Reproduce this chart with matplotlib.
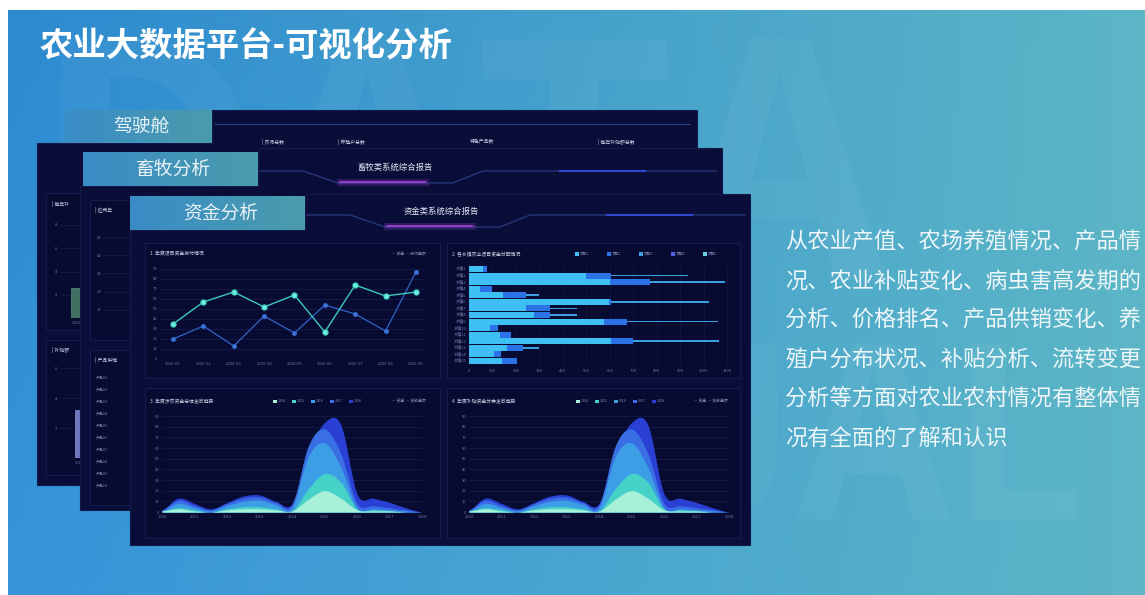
import numpy as np
import matplotlib.pyplot as plt
from matplotlib.patches import Rectangle, Polygon

plt.rcParams['font.family'] = ['Noto Sans CJK SC', 'DejaVu Sans']

W, H = 1145, 595

title = "农业大数据平台-可视化分析"
tabs = ["驾驶舱", "畜牧分析", "资金分析"]
reports = ["畜牧类系统综合报告", "资金类系统综合报告"]
desc_lines = [
    "从农业产值、农场养殖情况、产品情",
    "况、农业补贴变化、病虫害高发期的",
    "分析、价格排名、产品供销变化、养",
    "殖户分布状况、补贴分析、流转变更",
    "分析等方面对农业农村情况有整体情",
    "况有全面的了解和认识",
]
kpi_labels = ["| 农场总数", "| 养殖户总数", "特色产品数", "| 每年补贴额总数"]

# line chart (two series over nine dates)
line_dates = ["2020-01", "2020-02", "2020-03", "2020-04", "2020-05",
              "2020-06", "2020-07", "2020-08", "2020-09"]
line_a = [35, 57, 67, 52, 64, 27, 74, 63, 67]
line_b = [20, 33, 13, 43, 26, 54, 45, 28, 87]

# stacked horizontal bars, 15 towns
bar_towns = ["乡镇%d" % (i + 1) for i in range(15)]
bar_s1 = [60, 500, 600, 45, 145, 595, 245, 275, 575, 90, 130, 605, 160, 105, 140]
bar_s2 = [15, 105, 170, 55, 100, 10, 100, 70, 100, 35, 50, 95, 70, 30, 65]
bar_s3 = [0, 330, 320, 0, 55, 420, 115, 115, 385, 0, 0, 365, 70, 0, 0]
bar_ticks = list(range(0, 1101, 100))

# overlapping area layers (half-year steps)
area_years = ["2010", "2011", "2012", "2013", "2014", "2015", "2016", "2017", "2018"]
area_l5 = [2, 13, 8, 3, 9, 15, 16, 10, 8, 55, 84, 82, 17, 13, 9, 4, 0]
area_l4 = [2, 11, 6, 2, 8, 13, 14, 9, 7, 62, 78, 55, 8, 6, 4, 2, 0]
area_l3 = [1, 8, 4, 1, 6, 10, 11, 7, 4, 52, 65, 42, 4, 3, 2, 1, 0]
area_l2 = [1, 4, 2, 0, 3, 5, 5, 3, 1, 22, 36, 28, 3, 2, 1, 0, 0]
area_l1 = [1, 3, 1, 0, 2, 3, 3, 2, 1, 12, 20, 13, 2, 1, 1, 0, 0]
area_colors = ["#2a3fd4", "#3a6ee4", "#3c9fe6", "#46d2c6", "#a8f0d8"]

# small charts on the back pages
mini_a = [2.6]
mini_b = [3.2]
mini_spikes = [10, 18, 35, 22, 48, 15, 30, 12]

fig = plt.figure(figsize=(W / 100, H / 100), dpi=100, facecolor="white")


def fbox(x0, y0, x1, y1):
    return [x0 / W, 1 - y1 / H, (x1 - x0) / W, (y1 - y0) / H]


def layer(z):
    ax = fig.add_axes([0, 0, 1, 1], zorder=z)
    ax.set_xlim(0, W)
    ax.set_ylim(H, 0)
    ax.axis("off")
    ax.patch.set_alpha(0)
    return ax


def gradient_rect(ax, x0, y0, x1, y1, c0, c1, z=1):
    t = np.linspace(0, 1, 64)
    c0, c1 = np.array(c0) / 255, np.array(c1) / 255
    img = (c0[None, :] * (1 - t[:, None]) + c1[None, :] * t[:, None])[None, :, :]
    ax.imshow(img, extent=(x0, x1, y1, y0), aspect="auto", zorder=z, interpolation="bilinear")


def panel(ax, x0, y0, x1, y1, tab_x1, top):
    pts = [(x0, y0), (tab_x1, y0), (tab_x1, top), (x1, top), (x1, y1), (x0, y1)]
    ax.add_patch(Polygon(pts, closed=True, fc="#090d38", ec="#141a4c", lw=0.8, zorder=2))


def tab(ax, x0, y0, x1, y1, text):
    gradient_rect(ax, x0, y0, x1, y1, (58, 140, 198), (74, 156, 172), z=3)
    ax.text((x0 + x1) / 2 + 3, (y0 + y1) / 2, text, color="#e8f2f8", fontsize=13.5,
            ha="center", va="center", zorder=4)


def header(ax, xs, xe, y, text, cx):
    px = [xs, xs + 43, xs + 78, xs + 193, xs + 223, xe]
    py = [y, y, y + 12, y + 12, y, y]
    ax.plot(px, py, color="#27357a", lw=1.0, zorder=3)
    ax.plot([xs + 80, xs + 165], [y + 11, y + 11], color="#a040e0", lw=5, alpha=0.25, zorder=3)
    ax.plot([xs + 80, xs + 165], [y + 11, y + 11], color="#c050f0", lw=1.2, alpha=0.8, zorder=3)
    ax.plot([xs + 300, xs + 385], [y, y], color="#3550e8", lw=1.6, alpha=0.8, zorder=3)
    ax.text(cx, y - 4, text, color="#e4e8f4", fontsize=6, ha="center", va="center", zorder=4)


def frame(ax, x0, y0, x1, y1):
    ax.add_patch(Rectangle((x0, y0), x1 - x0, y1 - y0, fc="#080b31", ec="#151c50", lw=0.7, zorder=3))


def style_chart(ax):
    ax.patch.set_alpha(0)
    for s in ax.spines.values():
        s.set_visible(False)
    ax.tick_params(length=0, labelsize=3, colors="#6d77a8", pad=2)


def smooth(x, y, n=24):
    # Catmull-Rom curve through the data points
    x = np.asarray(x, float)
    y = np.asarray(y, float)
    xs, ys = [], []
    t = np.linspace(0, 1, n, endpoint=False)
    for i in range(len(x) - 1):
        p0, p1 = y[max(i - 1, 0)], y[i]
        p2, p3 = y[i + 1], y[min(i + 2, len(y) - 1)]
        yy = 0.5 * (2 * p1 + (-p0 + p2) * t + (2 * p0 - 5 * p1 + 4 * p2 - p3) * t ** 2
                    + (-p0 + 3 * p1 - 3 * p2 + p3) * t ** 3)
        xs.append(x[i] + (x[i + 1] - x[i]) * t)
        ys.append(yy)
    xs.append([x[-1]])
    ys.append([y[-1]])
    return np.concatenate(xs), np.clip(np.concatenate(ys), 0, None)


# ---- background, title, description ----
bg = layer(0)
ny, nx = 60, 200
gx = np.linspace(0, 1, nx)[None, :]
gy = np.linspace(0, 1, ny)[:, None]
left = np.array([44, 138, 208]) / 255
right = np.array([92, 182, 198]) / 255
img = left * (1 - gx[..., None]) + right * gx[..., None]
img = img + 0.04 * gy[..., None] * (1 - gx[..., None])
bg.imshow(np.clip(img, 0, 1), extent=(8, W, H, 10), aspect="auto", zorder=0)
bg.text(30, 20, "DATA", fontsize=235, fontweight="bold", color="white", alpha=0.04,
        ha="left", va="top", zorder=0.5)
bg.text(250, 330, "VISUAL", fontsize=170, fontweight="bold", color="white", alpha=0.04,
        ha="left", va="top", zorder=0.5)
bg.text(40, 47, title, fontsize=24, fontweight="bold", color="white", ha="left", va="center", zorder=5)
for i, s in enumerate(desc_lines):
    bg.text(785, 242 + 39.3 * i, s, fontsize=16, color="#eef6fa", ha="left", va="center", zorder=5)

# page 1 (驾驶舱)
panel(bg, 37, 143, 697, 485, 212, 110)
bg.plot([215, 690], [124, 124], color="#23408c", lw=0.8, zorder=3)
for x, s in zip([262, 338, 470, 598], kpi_labels):
    bg.text(x, 142, s, fontsize=3.5, color="#c8d0e8", ha="left", va="center", zorder=4)
frame(bg, 46, 193, 86, 330)
frame(bg, 46, 340, 86, 475)
bg.text(52, 204, "| 每年补", fontsize=3.5, color="#c8d0e8", va="center", zorder=4)
bg.text(52, 350, "| 补贴额", fontsize=3.5, color="#c8d0e8", va="center", zorder=4)
tab(bg, 65, 110, 212, 143, tabs[0])

ma = fig.add_axes(fbox(60, 225, 92, 318), zorder=1)
style_chart(ma)
ma.bar([0], mini_a, width=0.55, color="#3f7062", edgecolor="#6aa090", lw=0.4)
ma.set_xlim(-0.9, 0.9)
ma.set_ylim(0, 8)
ma.set_yticks(range(2, 9, 2))
ma.set_xticks([0], ["2019"])
ma.grid(axis="y", color="#161c4c", lw=0.5)
ma.set_axisbelow(True)

mb = fig.add_axes(fbox(60, 368, 92, 458), zorder=1)
style_chart(mb)
mb.bar([0], mini_b, width=0.35, color="#6d78c0", edgecolor="#9aa4e0", lw=0.4)
mb.set_xlim(-0.9, 0.6)
mb.set_ylim(0, 6)
mb.set_yticks(range(2, 7, 2))
mb.set_xticks([0], ["2019"])
mb.grid(axis="y", color="#161c4c", lw=0.5)
mb.set_axisbelow(True)

# page 2 (畜牧分析)
p2 = layer(2)
panel(p2, 80, 186, 722, 510, 258, 148)
header(p2, 260, 716, 171, reports[0], 395)
frame(p2, 90, 200, 140, 340)
frame(p2, 90, 350, 140, 505)
p2.text(95, 210, "| 近两年", fontsize=3.5, color="#c8d0e8", va="center", zorder=4)
p2.text(95, 360, "| 产品供销", fontsize=3.5, color="#c8d0e8", va="center", zorder=4)
for k in range(10):
    p2.text(96, 378 + 12 * k, "产品%02d" % (k + 1), fontsize=2.8, color="#7880b0", va="center", zorder=4)
tab(p2, 83, 152, 258, 186, tabs[1])

mc = fig.add_axes(fbox(104, 228, 150, 328), zorder=3)
style_chart(mc)
mc.bar(np.arange(len(mini_spikes)) * 0.5 + 8, mini_spikes, width=0.4,
       color=["#3ec0f0", "#2a72e6"] * 4)
mc.set_xlim(0, 14)
mc.set_ylim(0, 55)
mc.set_yticks(range(10, 56, 10))
mc.set_xticks([])
mc.grid(axis="y", color="#161c4c", lw=0.5)
mc.set_axisbelow(True)

# page 3 (资金分析)
p3 = layer(4)
panel(p3, 130, 230, 750, 545, 305, 194)
header(p3, 307, 745, 215, reports[1], 441)
tab(p3, 130, 196, 305, 230, tabs[2])
frame(p3, 145, 243, 440, 378)
frame(p3, 447, 243, 740, 378)
frame(p3, 145, 388, 440, 538)
frame(p3, 447, 388, 740, 538)
tc = "#c8d0e8"
p3.text(150, 254, "1  年度项目资金拨付情况", fontsize=3.5, color=tc, va="center", zorder=4)
p3.text(452, 254, "2  各乡镇农业项目资金分配情况", fontsize=3.5, color=tc, va="center", zorder=4)
p3.text(150, 401, "3  年度涉农资金总体发放趋势", fontsize=3.5, color=tc, va="center", zorder=4)
p3.text(452, 401, "4  年度补贴资金分类发放趋势", fontsize=3.5, color=tc, va="center", zorder=4)
p3.text(392, 254, "— 资金  — 拨付金额", fontsize=2.8, color="#8890c0", va="center", zorder=4)
p3.text(392, 401, "— 资金  — 发放金额", fontsize=2.8, color="#8890c0", va="center", zorder=4)
p3.text(694, 401, "— 资金  — 发放金额", fontsize=2.8, color="#8890c0", va="center", zorder=4)
for i, c in enumerate(area_colors[::-1]):
    for x0 in (273, 576):
        p3.add_patch(Rectangle((x0 + 19 * i, 399.5), 3.5, 3.5, fc=c, zorder=4))
        p3.text(x0 + 19 * i + 5, 401, "20%d" % (14 + i), fontsize=2.6, color="#8890c0",
                va="center", zorder=4)
bar_colors = ["#3ec0f4", "#2a72e6", "#3aa0e0", "#5060e0", "#60d0e0"]
for i, c in enumerate(bar_colors):
    p3.add_patch(Rectangle((575 + 32 * i, 251.5), 4, 4, fc=c, zorder=4))
    p3.text(580 + 32 * i, 253.5, "项目%d" % (i + 1), fontsize=2.6, color="#8890c0", va="center", zorder=4)

# line chart
al = fig.add_axes(fbox(160, 264, 425, 359), zorder=5)
style_chart(al)
xl = np.arange(len(line_dates))
al.plot(xl, line_b, color="#2e64c8", lw=0.9, marker="o", ms=2.5, mfc="#3a70d8", mec="#3a70d8")
al.plot(xl, line_a, color="#3cc8c0", lw=1.0, marker="o", ms=3.5, mfc="#7ef0e0", mec="#40d8c8")
al.set_xlim(-0.43, 8.3)
al.set_ylim(0, 95)
al.set_yticks(range(0, 91, 10))
al.set_xticks(xl, line_dates)
al.grid(axis="y", color="#1a1f50", lw=0.5)
al.set_axisbelow(True)

# stacked bar chart
ab = fig.add_axes(fbox(469, 264, 740, 366), zorder=5)
style_chart(ab)
yb = np.arange(len(bar_towns))
s1 = np.array(bar_s1)
s2 = np.array(bar_s2)
s3 = np.array(bar_s3)
ab.barh(yb, s1, height=0.9, color="#3ec0f4")
ab.barh(yb, s2, left=s1, height=0.9, color="#2a72e6")
ab.barh(yb, s3, left=s1 + s2, height=0.28, color="#3aa0e0")
ab.set_xlim(0, 1155)
ab.set_ylim(14.76, -0.76)
ab.set_yticks(yb, bar_towns)
ab.set_xticks(bar_ticks)
ab.grid(axis="x", color="#141a48", lw=0.4)
ab.set_axisbelow(True)

# area charts
xa = np.arange(len(area_l5)) * 0.5
layers = [area_l5, area_l4, area_l3, area_l2, area_l1]
for x0, x1 in ((162, 422), (469, 729)):
    aa = fig.add_axes(fbox(x0, 414, x1, 512), zorder=5)
    style_chart(aa)
    for vals, c in zip(layers, area_colors):
        sx, sy = smooth(xa, vals)
        aa.fill_between(sx, 0, sy, color=c, lw=0)
    aa.set_xlim(0, 8)
    aa.set_ylim(0, 92)
    aa.set_yticks(range(0, 91, 10))
    aa.set_xticks(range(len(area_years)), area_years)
    aa.grid(axis="y", color="#1a1f50", lw=0.5)
    aa.set_axisbelow(True)

# page border
bg.add_patch(Rectangle((0, 0), W, 10, fc="white", ec="none", zorder=6))
bg.add_patch(Rectangle((0, 0), 8, H, fc="white", ec="none", zorder=6))

fig.savefig("out.png", dpi=100, facecolor="white")
